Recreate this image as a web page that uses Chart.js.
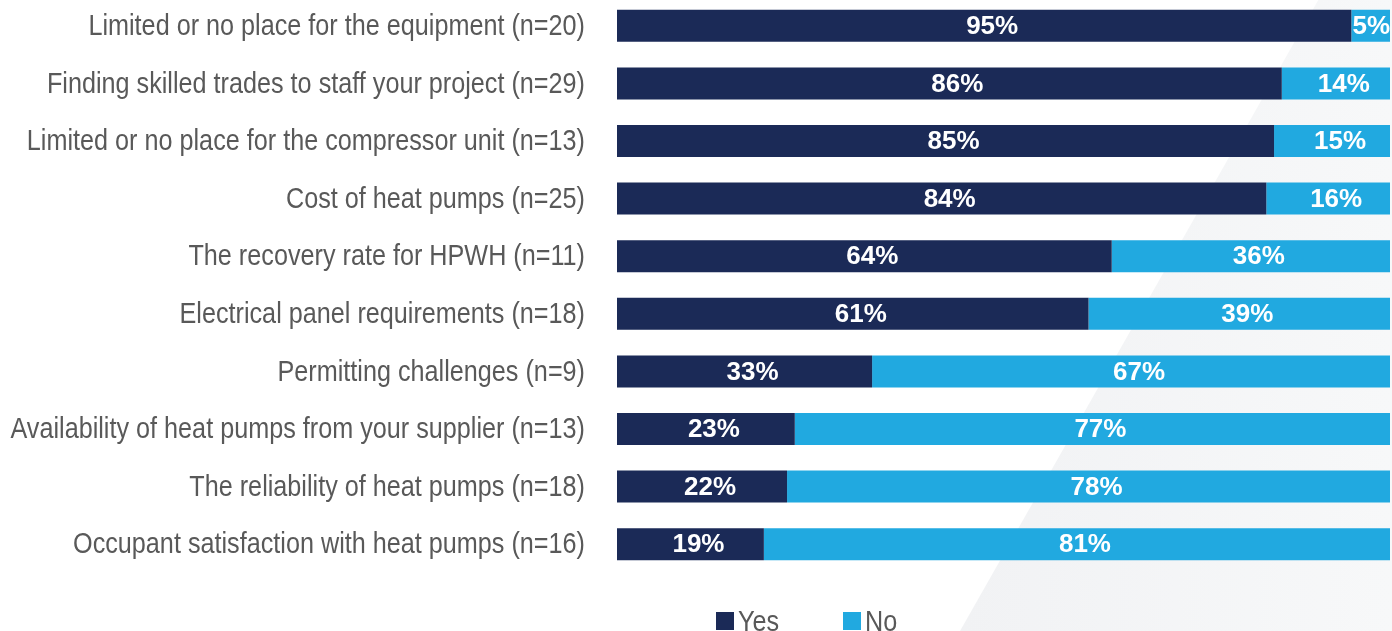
<!DOCTYPE html>
<html>
<head>
<meta charset="utf-8">
<script src="https://cdn.jsdelivr.net/npm/chart.js@4"></script>
<style>
  body { margin: 0; background: #fff; overflow: hidden; }
  #chart { display: block; margin-top: -3px; }
</style>
</head>
<body>
<canvas id="chart" width="1392" height="634"></canvas>
<script>
const categories = [
  "Limited or no place for the equipment (n=20)",
  "Finding skilled trades to staff your project (n=29)",
  "Limited or no place for the compressor unit (n=13)",
  "Cost of heat pumps (n=25)",
  "The recovery rate for HPWH (n=11)",
  "Electrical panel requirements (n=18)",
  "Permitting challenges (n=9)",
  "Availability of heat pumps from your supplier (n=13)",
  "The reliability of heat pumps (n=18)",
  "Occupant satisfaction with heat pumps (n=16)"
];
const yesValues = [95, 86, 85, 84, 64, 61, 33, 23, 22, 19];
const noValues = [5, 14, 15, 16, 36, 39, 67, 77, 78, 81];
const seriesNames = ["Yes", "No"];
const seriesColors = ["#1b2a57", "#21a9e0"];

const textGray = "#595959";
const narrow = 0.84; // squeeze Liberation Sans to look like a narrow face

// light diagonal panel behind the right side
const backdrop = {
  id: "backdrop",
  beforeDraw(chart) {
    const ctx = chart.ctx;
    const w = chart.width, h = chart.height;
    ctx.save();
    const g = ctx.createLinearGradient(960, 0, w, 0);
    g.addColorStop(0, "#f1f2f4");
    g.addColorStop(1, "#f7f8f9");
    ctx.fillStyle = g;
    ctx.beginPath();
    ctx.moveTo(1320, 0);
    ctx.lineTo(w, 0);
    ctx.lineTo(w, h);
    ctx.lineTo(960, h);
    ctx.closePath();
    ctx.fill();
    ctx.restore();
  }
};

// percentage labels, a little right of each segment's middle
const barLabels = {
  id: "barLabels",
  afterDatasetsDraw(chart) {
    const ctx = chart.ctx;
    ctx.save();
    ctx.fillStyle = "#ffffff";
    ctx.font = "bold 26px 'Liberation Sans', sans-serif";
    ctx.textAlign = "center";
    ctx.textBaseline = "middle";
    chart.data.datasets.forEach((ds, i) => {
      chart.getDatasetMeta(i).data.forEach((bar, j) => {
        const txt = ds.data[j] + "%";
        const half = ctx.measureText(txt).width / 2;
        const x = Math.min((bar.x + bar.base) / 2 + 8, bar.x - half);
        ctx.fillText(txt, x, bar.y + 1);
      });
    });
    ctx.restore();
  }
};

// category names and legend, drawn narrow
const sideText = {
  id: "sideText",
  afterDraw(chart) {
    const ctx = chart.ctx;
    const yScale = chart.scales.y;
    ctx.save();
    ctx.fillStyle = textGray;
    ctx.font = "30px 'Liberation Sans', sans-serif";
    ctx.textAlign = "right";
    ctx.textBaseline = "middle";
    chart.data.labels.forEach((lab, i) => {
      ctx.save();
      ctx.translate(chart.chartArea.left - 32, yScale.getPixelForValue(i) + 1);
      ctx.scale(narrow, 1);
      ctx.fillText(lab, 0, 0);
      ctx.restore();
    });

    // legend
    const legendX = [716, 843];
    ctx.textAlign = "left";
    ctx.textBaseline = "alphabetic";
    chart.data.datasets.forEach((ds, i) => {
      ctx.fillStyle = ds.backgroundColor;
      ctx.fillRect(legendX[i], 615, 18, 18);
      ctx.save();
      ctx.translate(legendX[i] + 22, 634);
      ctx.scale(narrow, 1);
      ctx.fillStyle = textGray;
      ctx.fillText(ds.label, 0, 0);
      ctx.restore();
    });
    ctx.restore();
  }
};

const chart = new Chart(document.getElementById("chart"), {
  type: "bar",
  data: {
    labels: categories,
    datasets: [
      { label: seriesNames[0], data: yesValues, backgroundColor: seriesColors[0] },
      { label: seriesNames[1], data: noValues, backgroundColor: seriesColors[1] }
    ]
  },
  options: {
    indexAxis: "y",
    responsive: false,
    animation: false,
    barPercentage: 1,
    categoryPercentage: 0.556,
    layout: { padding: { top: 0, right: 2, bottom: 58, left: 0 } },
    scales: {
      x: { stacked: true, min: 0, max: 100, display: false },
      y: {
        stacked: true,
        grid: { display: false },
        border: { display: false },
        ticks: { display: false },
        afterFit(scale) {
          scale.width = 617;
          scale.paddingTop = 0;
          scale.paddingBottom = 0;
        }
      }
    },
    plugins: {
      legend: { display: false },
      tooltip: { enabled: false }
    }
  },
  plugins: [backdrop, barLabels, sideText]
});
</script>
</body>
</html>
